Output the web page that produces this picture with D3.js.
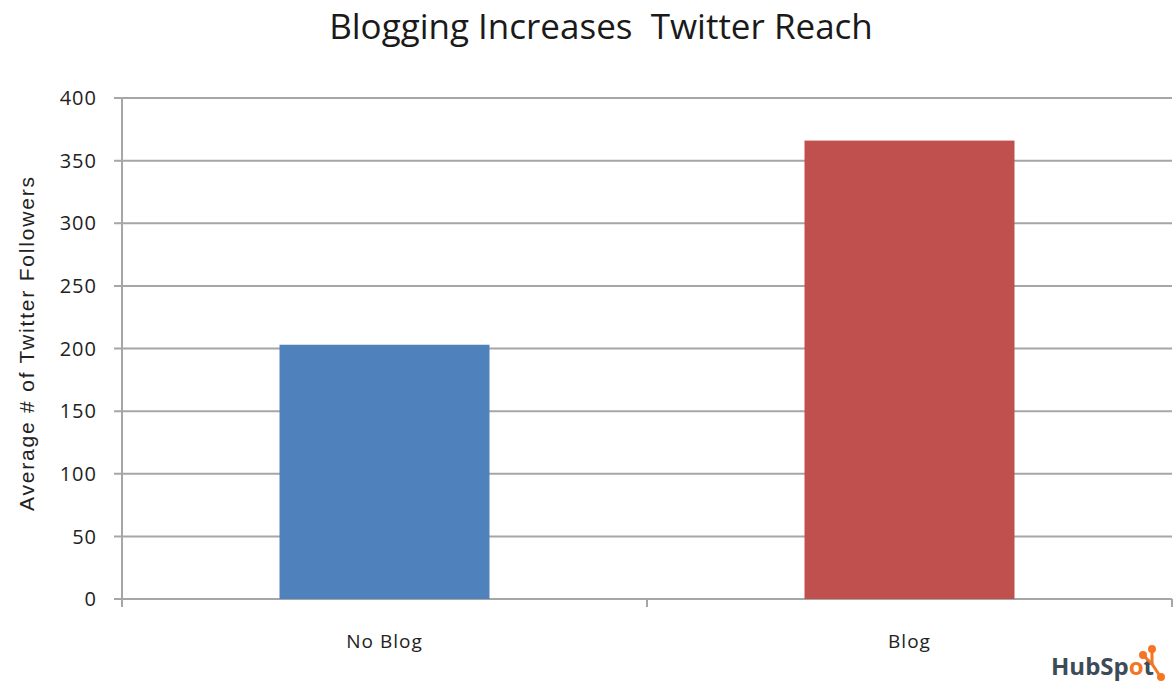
<!DOCTYPE html>
<html><head><meta charset="utf-8">
<script src="https://cdn.jsdelivr.net/npm/d3@7"></script>
<style>body{margin:0;background:#fff}svg{display:block}</style>
</head><body>
<svg id="c" width="1174" height="686"></svg>
<script>
const categories = ["No Blog", "Blog"];
const values = [203, 366];
const colors = ["#4f81bd", "#c0504d"];
const yTicks = [0, 50, 100, 150, 200, 250, 300, 350, 400];
const title = "Blogging Increases  Twitter Reach";
const yLabel = "Average # of Twitter Followers";

const svg = d3.select("#c");
const m = {left: 122, right: 1172, top: 98, bottom: 599};
const x = d3.scaleBand().domain(categories).range([m.left, m.right]).paddingInner(0.6).paddingOuter(0.3);
const y = d3.scaleLinear().domain([0, 400]).range([m.bottom, m.top]);
const font = "'Open Sans', 'Liberation Sans', sans-serif";
const grid = "#a6a6a6";

// gridlines
svg.append("g").selectAll("line").data(yTicks).join("line")
  .attr("x1", m.left - 8).attr("x2", m.right)
  .attr("y1", d => y(d)).attr("y2", d => y(d))
  .attr("stroke", grid).attr("stroke-width", 2);

// y axis line
svg.append("line").attr("x1", m.left).attr("x2", m.left)
  .attr("y1", m.top).attr("y2", m.bottom + 8).attr("stroke", grid).attr("stroke-width", 2);

// x ticks at band boundaries
const bounds = [m.left, m.left + x.step(), m.right];
svg.append("g").selectAll("line").data(bounds).join("line")
  .attr("x1", d => d).attr("x2", d => d)
  .attr("y1", m.bottom).attr("y2", m.bottom + 8)
  .attr("stroke", grid).attr("stroke-width", 2);

// bars
svg.append("g").selectAll("rect").data(categories).join("rect")
  .attr("x", d => x(d)).attr("width", x.bandwidth())
  .attr("y", (d, i) => y(values[i])).attr("height", (d, i) => y(0) - y(values[i]))
  .attr("fill", (d, i) => colors[i]);

// y tick labels
svg.append("g").selectAll("text").data(yTicks).join("text")
  .attr("x", 97).attr("y", d => y(d)).attr("dy", "0.36em")
  .attr("text-anchor", "end").attr("font-family", font).attr("font-size", 20)
  .attr("letter-spacing", 1).attr("fill", "#222")
  .text(d => d);

// x labels
svg.append("g").selectAll("text").data(categories).join("text")
  .attr("x", d => x(d) + x.bandwidth() / 2).attr("y", 648)
  .attr("text-anchor", "middle").attr("font-family", font).attr("font-size", 19)
  .attr("letter-spacing", 1).attr("fill", "#222")
  .text(d => d);

// y axis label
svg.append("text").attr("transform", "translate(34,344) rotate(-90)")
  .attr("text-anchor", "middle").attr("font-family", "'Liberation Sans', Arial, sans-serif").attr("font-size", 21)
  .attr("textLength", 334).attr("lengthAdjust", "spacing").attr("fill", "#222")
  .text(yLabel);

// title
svg.append("text").attr("x", 601).attr("y", 39).attr("text-anchor", "middle")
  .attr("font-family", font).attr("font-size", 35).attr("fill", "#1a1a1a").style("white-space", "pre")
  .text(title);

// HubSpot logo
const logo = svg.append("text").attr("x", 1051).attr("y", 675)
  .attr("font-family", font).attr("font-size", 24).attr("font-weight", "bold").attr("fill", "#3d4a57");
logo.append("tspan").text("HubSp");
logo.append("tspan").attr("fill", "#f47622").text("o");
logo.append("tspan").text("t");
const lg = svg.append("g").attr("stroke", "#f47622").attr("stroke-width", 3).attr("fill", "#f47622");
lg.append("line").attr("x1", 1152).attr("y1", 664).attr("x2", 1152).attr("y2", 650);
lg.append("circle").attr("cx", 1152).attr("cy", 649).attr("r", 2.5);
lg.append("line").attr("x1", 1152).attr("y1", 664).attr("x2", 1144).attr("y2", 656);
lg.append("circle").attr("cx", 1143).attr("cy", 655).attr("r", 2.5);
lg.append("line").attr("x1", 1152).attr("y1", 664).attr("x2", 1160).attr("y2", 676);
lg.append("circle").attr("cx", 1161).attr("cy", 677).attr("r", 2.5);
</script>
</body></html>
